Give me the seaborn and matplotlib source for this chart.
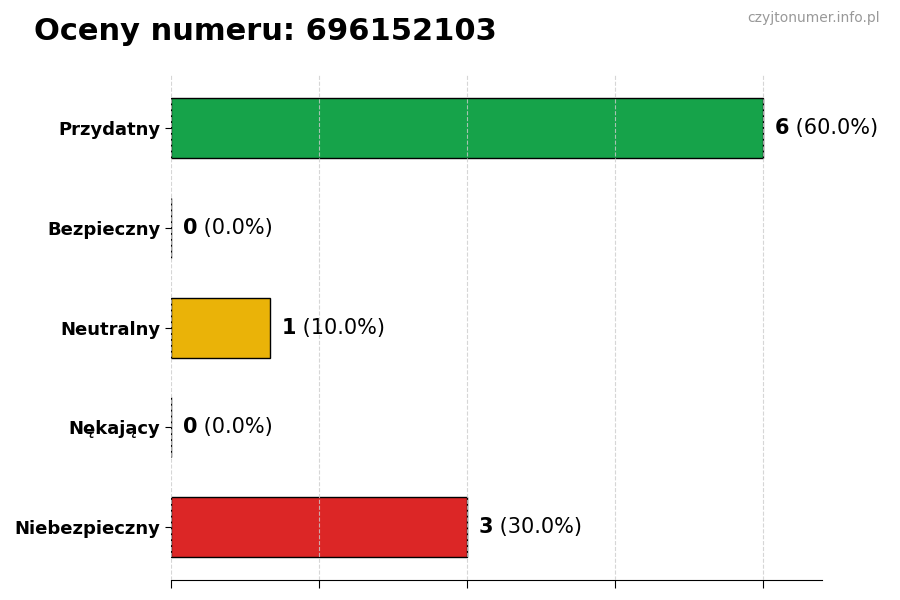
import matplotlib
matplotlib.use("Agg")
import matplotlib.pyplot as plt
import seaborn as sns
import pandas as pd

categories = ["Przydatny", "Bezpieczny", "Neutralny", "Nękający", "Niebezpieczny"]
counts = [6, 0, 1, 0, 3]
colors = ["#16a34a", "#3b82f6", "#eab308", "#f97316", "#dc2626"]
phone = "696152103"

total = sum(counts)
df = pd.DataFrame({"cat": categories, "n": counts})

sns.set_style("white")
plt.rcParams["font.family"] = ["DejaVu Sans"]
plt.rcParams["text.color"] = "black"
plt.rcParams["xtick.color"] = "black"
plt.rcParams["ytick.color"] = "black"
plt.rcParams["axes.edgecolor"] = "black"

fig = plt.figure(figsize=(9, 6), dpi=100)
ax = fig.add_axes([0.19, 0.033, 0.723, 0.842])

sns.barplot(data=df, x="n", y="cat", hue="cat", palette=colors, orient="h",
            width=0.6, edgecolor="black", linewidth=1, saturation=1,
            legend=False, ax=ax)

ax.set_xlim(0, max(counts) * 1.1)
ax.set_ylim(len(categories) - 1 + 0.53, -0.53)
ax.set_xticks([0, 1.5, 3, 4.5, 6])
ax.set_xticklabels([])
ax.set_xlabel("")
ax.set_ylabel("")
ax.grid(axis="x", linestyle="--", color="#cccccc", linewidth=0.8, alpha=0.8)
ax.set_axisbelow(False)
for s in ["top", "right", "left"]:
    ax.spines[s].set_visible(False)
ax.tick_params(axis="y", length=4, left=True, colors="black")
ax.tick_params(axis="x", length=6, bottom=True, colors="black")
for lbl in ax.get_yticklabels():
    lbl.set_fontweight("bold")
    lbl.set_fontsize(13)

off = max(counts) * 1.1 * 0.018
for i, n in enumerate(counts):
    t = ax.text(n + off, i, str(n), fontsize=15, fontweight="bold", va="center",
                ha="left", color="black")
    ax.annotate(f" ({n / total * 100:.1f}%)", xy=(1, 0), xycoords=t,
                fontsize=15, va="bottom", ha="left", color="black")

fig.text(0.038, 0.948, f"Oceny numeru: {phone}", fontsize=22, fontweight="bold",
         ha="left", va="center", color="black")
fig.text(0.978, 0.97, "czyjtonumer.info.pl", fontsize=10, color="#999999",
         ha="right", va="center")

fig.savefig("out.png", dpi=100)
